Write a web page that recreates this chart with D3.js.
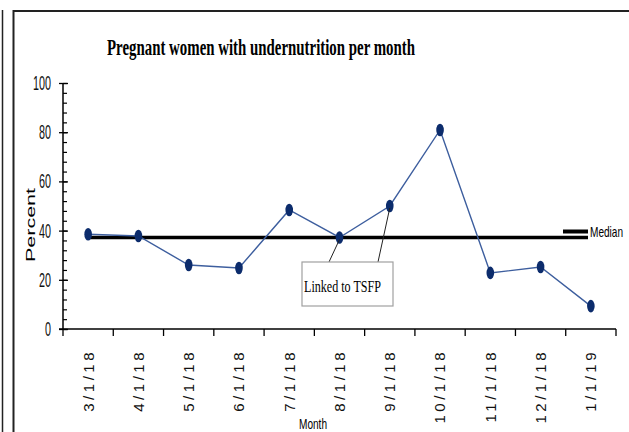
<!DOCTYPE html>
<html>
<head>
<meta charset="utf-8">
<script src="https://cdn.jsdelivr.net/npm/d3@7"></script>
<style>
  body { margin: 0; background: #fff; }
  svg { display: block; }
</style>
</head>
<body>
<div id="chart"></div>
<script>
// ---------------------------------------------------------------
//  data
// ---------------------------------------------------------------
const months = ["3/1/18", "4/1/18", "5/1/18", "6/1/18", "7/1/18", "8/1/18",
                "9/1/18", "10/1/18", "11/1/18", "12/1/18", "1/1/19"];
const percent = [38.5, 37.8, 26, 24.8, 48.4, 37.2, 50, 80.9, 22.8, 25.2, 9.3];
const yTicks = [0, 20, 40, 60, 80, 100];
const yMinorTicks = d3.range(0, 101, 4);

const titleText = "Pregnant women with undernutrition per month";
const noteText = "Linked to TSFP";
const noteMonths = ["8/1/18", "9/1/18"];   // points the note box points at

// ---------------------------------------------------------------
//  layout
// ---------------------------------------------------------------
const width = 629, height = 432;
const plot = {left: 63, right: 616, top: 83, bottom: 329};

const lineColor = "#3d5e9e";
const markerColor = "#0c2c6c";

const svg = d3.select("#chart").append("svg")
    .attr("width", width)
    .attr("height", height);

// frame lines round the picture
svg.append("line")
    .attr("x1", 2.5).attr("x2", 2.5).attr("y1", 10).attr("y2", height)
    .attr("stroke", "#222").attr("stroke-width", 1.5);
svg.append("rect")
    .attr("x", 13.5).attr("y", 11).attr("width", 640).attr("height", 440)
    .attr("fill", "none").attr("stroke", "#222").attr("stroke-width", 2);

// scales
const x = d3.scaleBand().domain(months).range([plot.left, plot.right]).padding(0);
const y = d3.scaleLinear().domain([0, 100]).range([plot.bottom, plot.top]);
const cx = d => x(d) + x.bandwidth() / 2;

// title
svg.append("text")
    .attr("x", 107).attr("y", 55)
    .attr("textLength", 308)
    .attr("lengthAdjust", "spacingAndGlyphs")
    .style("font-family", "'Liberation Serif', 'Times New Roman', serif")
    .style("font-weight", "bold")
    .style("font-size", "23px")
    .text(titleText);

// y axis: major ticks left, minor ticks right
const yMinor = svg.append("g")
    .attr("transform", `translate(${plot.left},0)`)
    .call(d3.axisRight(y).tickValues(yMinorTicks).tickSize(4).tickFormat(""));
yMinor.select(".domain").remove();
yMinor.selectAll("line").attr("stroke", "#000").attr("stroke-width", 1.2);

const yAxis = svg.append("g")
    .attr("transform", `translate(${plot.left},0)`)
    .call(d3.axisLeft(y).tickValues(yTicks).tickSize(4).tickPadding(8));
yAxis.select(".domain")
    .attr("d", `M0,${plot.top}V${plot.bottom}`)
    .attr("stroke", "#000").attr("stroke-width", 1.5);
yAxis.selectAll(".tick line").attr("x2", -4).attr("x1", 5)
    .attr("stroke", "#000").attr("stroke-width", 1.3);
yAxis.selectAll(".tick text")
    .style("font-family", "'Liberation Sans', Arial, sans-serif")
    .style("font-size", "20px")
    .attr("fill", "#111")
    .attr("textLength", d => String(d).length * 6)
    .attr("lengthAdjust", "spacingAndGlyphs");

// x axis with ticks on the band edges
const xAxis = svg.append("g")
    .attr("transform", `translate(0,${plot.bottom})`)
    .call(d3.axisBottom(x).tickSize(0).tickPadding(0));
xAxis.select(".domain")
    .attr("d", `M${plot.left - 4},0H${plot.right}`)
    .attr("stroke", "#000").attr("stroke-width", 1.5);
xAxis.selectAll(".tick text")
    .attr("transform", "rotate(-90)")
    .attr("x", -20).attr("y", 0).attr("dy", "0.36em")
    .style("text-anchor", "end")
    .style("font-family", "'Liberation Sans', Arial, sans-serif")
    .style("font-size", "15px")
    .style("letter-spacing", "3.5px")
    .attr("fill", "#111");
xAxis.selectAll(".edge")
    .data(months.concat(["end"]))
    .enter().append("line")
    .attr("class", "edge")
    .attr("x1", (d, i) => plot.left + i * x.step())
    .attr("x2", (d, i) => plot.left + i * x.step())
    .attr("y1", 0).attr("y2", 7)
    .attr("stroke", "#000").attr("stroke-width", 1.3);

// axis titles
svg.append("text")
    .attr("transform", `translate(35,225) rotate(-90)`)
    .attr("text-anchor", "middle")
    .attr("textLength", 74)
    .attr("lengthAdjust", "spacingAndGlyphs")
    .style("font-family", "'Liberation Sans', Arial, sans-serif")
    .style("font-size", "13px")
    .text("Percent");

svg.append("text")
    .attr("x", 299).attr("y", 429)
    .attr("textLength", 28)
    .attr("lengthAdjust", "spacingAndGlyphs")
    .style("font-family", "'Liberation Sans', Arial, sans-serif")
    .style("font-size", "15px")
    .text("Month");

// median line
const median = d3.median(percent);
svg.append("line")
    .attr("x1", cx(months[0])).attr("x2", 588)
    .attr("y1", y(median)).attr("y2", y(median))
    .attr("stroke", "#000").attr("stroke-width", 3.5);

// median legend
svg.append("line")
    .attr("x1", 563).attr("x2", 588)
    .attr("y1", 231.5).attr("y2", 231.5)
    .attr("stroke", "#000").attr("stroke-width", 4);
svg.append("text")
    .attr("transform", "translate(590,237) scale(0.72,1)")
    .style("font-family", "'Liberation Sans', Arial, sans-serif")
    .style("font-size", "14px")
    .text("Median");

// data line + markers
const line = d3.line()
    .x((d, i) => cx(months[i]))
    .y(d => y(d));

svg.append("path")
    .datum(percent)
    .attr("d", line)
    .attr("fill", "none")
    .attr("stroke", lineColor)
    .attr("stroke-width", 1.4);

svg.selectAll(".point")
    .data(percent)
    .enter().append("ellipse")
    .attr("class", "point")
    .attr("cx", (d, i) => cx(months[i]))
    .attr("cy", d => y(d))
    .attr("rx", 3.8)
    .attr("ry", 6.3)
    .attr("fill", markerColor);

// note box with leader lines
const box = {x: 302, y: 262, w: 91, h: 44};
const leaderStart = [329, 378];
noteMonths.forEach((m, i) => {
    const v = percent[months.indexOf(m)];
    svg.append("line")
        .attr("x1", leaderStart[i]).attr("y1", box.y)
        .attr("x2", cx(m)).attr("y2", y(v) + 2)
        .attr("stroke", "#222").attr("stroke-width", 1);
});
svg.append("rect")
    .attr("x", box.x).attr("y", box.y)
    .attr("width", box.w).attr("height", box.h)
    .attr("fill", "#fff")
    .attr("stroke", "#a0a0a0").attr("stroke-width", 1.2);
svg.append("text")
    .attr("x", 304).attr("y", 292)
    .attr("textLength", 77)
    .attr("lengthAdjust", "spacingAndGlyphs")
    .style("font-family", "'Liberation Serif', 'Times New Roman', serif")
    .style("font-size", "17px")
    .text(noteText);
</script>
</body>
</html>
